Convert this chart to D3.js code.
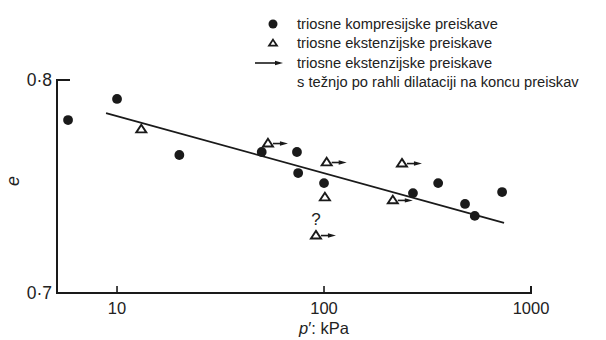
<!DOCTYPE html>
<html>
<head>
<meta charset="utf-8">
<script src="https://cdn.jsdelivr.net/npm/d3@7"></script>
<style>
  body { margin: 0; background: #fff; }
  svg text { font-family: "Liberation Sans", Arial, sans-serif; fill: #222; }
</style>
</head>
<body>
<div id="chart"></div>
<script>
// triosne kompresijske preiskave (filled circles)
var compP = [5.8, 10, 20, 50, 74, 75, 100, 269, 356, 480, 535, 725];
var compE = [0.7812, 0.7911, 0.7648, 0.7662, 0.7662, 0.7563, 0.7516, 0.7469, 0.7516, 0.7418, 0.7362, 0.7474];

// triosne ekstenzijske preiskave (open triangles), arrow = dilatation at end
var extP = [13.1, 53.6, 103, 101, 238, 215, 91.4];
var extE = [0.7770, 0.7704, 0.7615, 0.7451, 0.7610, 0.7437, 0.7272];
var extArrow = [false, true, true, false, true, true, true];
var extQuestion = [false, false, false, false, false, false, true];

// trend line end points
var lineP = [8.85, 741];
var lineE = [0.7845, 0.7329];

var xTicks = [10, 100, 1000];
var yTicks = [0.7, 0.8];

var legendLabels = [
    "triosne kompresijske preiskave",
    "triosne ekstenzijske preiskave",
    "triosne ekstenzijske preiskave",
    "s težnjo po rahli dilataciji na koncu preiskav"
];

var width = 606, height = 340;

var svg = d3.select("#chart").append("svg")
    .attr("width", width)
    .attr("height", height);

var xScale = d3.scaleLog()
    .domain([Math.pow(10, 0.71), 1000])
    .range([57, 531]);

var yScale = d3.scaleLinear()
    .domain([0.7, 0.8])
    .range([293, 80]);

var ink = "#1a1a1a";

// axis frame: x baseline with end tick at 1000, y line with short top tick
svg.append("path")
    .attr("d", "M" + xScale(1000) + "," + (yScale(0.7) - 7) +
        "V" + yScale(0.7) + "H" + xScale.range()[0] +
        "V" + yScale(0.8) + "H" + (xScale.range()[0] + 13))
    .attr("fill", "none")
    .attr("stroke", ink)
    .attr("stroke-width", 2);

svg.selectAll(".xtick")
    .data(xTicks.slice(0, 2))
    .enter().append("line")
    .attr("x1", function (d) { return xScale(d); })
    .attr("x2", function (d) { return xScale(d); })
    .attr("y1", yScale(0.7))
    .attr("y2", yScale(0.7) - 7)
    .attr("stroke", ink)
    .attr("stroke-width", 1.6);

svg.selectAll(".xlab")
    .data(xTicks)
    .enter().append("text")
    .attr("x", function (d) { return xScale(d); })
    .attr("y", 314)
    .attr("text-anchor", "middle")
    .style("font-size", "16.5px")
    .text(function (d) { return d; });

svg.selectAll(".ylab")
    .data(yTicks)
    .enter().append("text")
    .attr("x", 52)
    .attr("y", function (d) { return yScale(d) + 6; })
    .attr("text-anchor", "end")
    .style("font-size", "17.5px")
    .text(function (d) { return d.toFixed(1).replace(".", "·"); });

var xt = svg.append("text")
    .attr("x", 324)
    .attr("y", 334)
    .attr("text-anchor", "middle")
    .style("font-size", "16.5px");
xt.append("tspan").style("font-style", "italic").text("p");
xt.append("tspan").text("′: kPa");

svg.append("text")
    .attr("transform", "translate(19,181) rotate(-90)")
    .attr("text-anchor", "middle")
    .style("font-size", "18px")
    .style("font-style", "italic")
    .text("e");

// trend line
var line = d3.line()
    .x(function (d, i) { return xScale(lineP[i]); })
    .y(function (d, i) { return yScale(lineE[i]); });

svg.append("path")
    .datum(lineP)
    .attr("d", line)
    .attr("fill", "none")
    .attr("stroke", ink)
    .attr("stroke-width", 1.8);

function arrow(g, x0, y0, len) {
    g.append("line")
        .attr("x1", x0).attr("x2", x0 + len - 5)
        .attr("y1", y0).attr("y2", y0)
        .attr("stroke", ink)
        .attr("stroke-width", 1.6);
    g.append("path")
        .attr("d", "M" + (x0 + len) + "," + y0 + "L" + (x0 + len - 8) + "," + (y0 - 2.2) +
            "L" + (x0 + len - 8) + "," + (y0 + 2.2) + "Z")
        .attr("fill", ink);
}

var tri = "M0,-4.2L5,3.4L-5,3.4Z";

// extension tests
var ext = svg.append("g");
extP.forEach(function (p, i) {
    var cx = xScale(p), cy = yScale(extE[i]);
    ext.append("path")
        .attr("transform", "translate(" + cx + "," + cy + ")")
        .attr("d", tri)
        .attr("fill", "#fff")
        .attr("stroke", ink)
        .attr("stroke-width", 1.9);
    if (extArrow[i]) arrow(ext, cx + 5, cy + 0.5, 15);
    if (extQuestion[i]) {
        ext.append("text")
            .attr("x", cx)
            .attr("y", cy - 10)
            .attr("text-anchor", "middle")
            .style("font-size", "17px")
            .text("?");
    }
});

// compression tests
svg.selectAll(".dot")
    .data(compP)
    .enter().append("circle")
    .attr("cx", function (d) { return xScale(d); })
    .attr("cy", function (d, i) { return yScale(compE[i]); })
    .attr("r", 4.9)
    .attr("fill", ink);

// legend
var leg = svg.append("g");
var rowY = [24, 43, 63, 82];
leg.append("circle").attr("cx", 273).attr("cy", rowY[0]).attr("r", 4.5).attr("fill", ink);
leg.append("path")
    .attr("transform", "translate(273," + rowY[1] + ") scale(0.8)")
    .attr("d", tri)
    .attr("fill", "#fff")
    .attr("stroke", ink)
    .attr("stroke-width", 2.2);
arrow(leg, 255, rowY[2], 28);

leg.selectAll("text")
    .data(legendLabels)
    .enter().append("text")
    .attr("x", 297)
    .attr("y", function (d, i) { return rowY[i] + 5; })
    .style("font-size", "14.7px")
    .text(function (d) { return d; });
</script>
</body>
</html>
